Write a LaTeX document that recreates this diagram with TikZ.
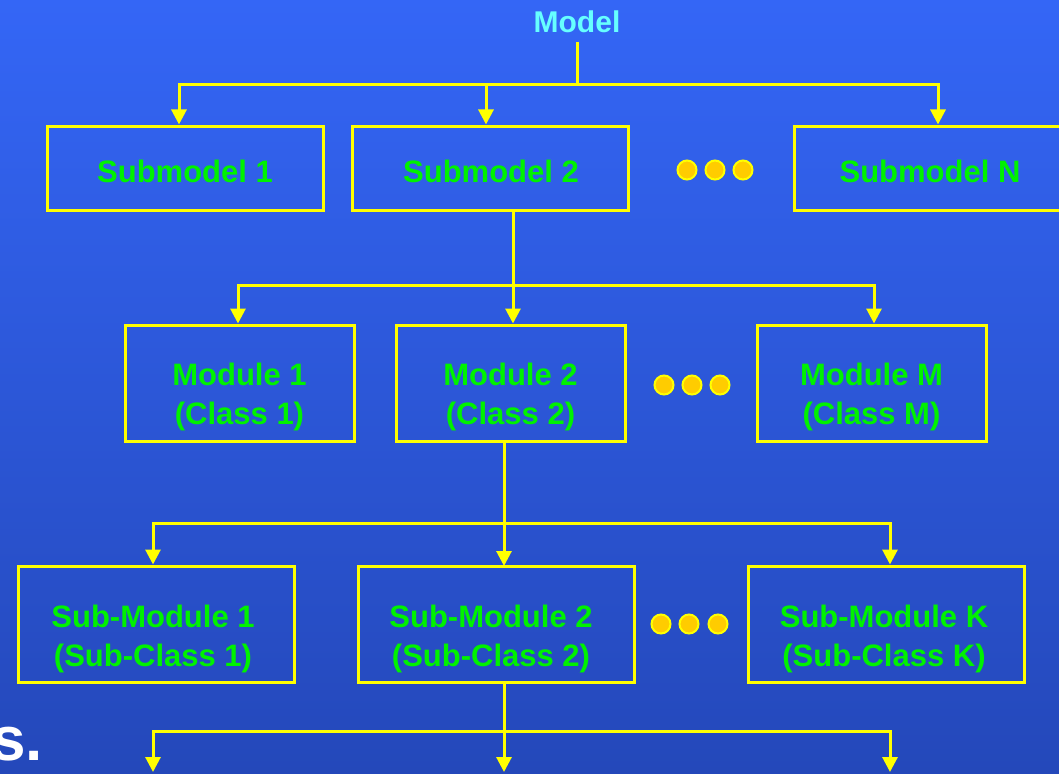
\documentclass[tikz,border=0pt]{standalone}
\usepackage{fontspec}
\setmainfont{Liberation Sans}
\usetikzlibrary{arrows.meta}
\definecolor{bgtop}{RGB}{52,102,246}
\definecolor{bgbot}{RGB}{36,72,186}
\definecolor{ylw}{RGB}{255,255,0}
\definecolor{grn}{RGB}{0,242,0}
\definecolor{cyn}{RGB}{102,255,255}
\definecolor{dotfill}{RGB}{255,204,0}
\tikzset{
  box/.style={draw=ylw, line width=3pt, inner sep=0pt},
  txt/.style={text=grn, inner sep=0pt, align=center,
    font=\bfseries\fontsize{31}{39}\selectfont},
  wire/.style={draw=ylw, line width=3pt},
  arr/.style={wire, -{Triangle[width=15pt,length=15pt]}},
  dotc/.style={circle, fill=dotfill, draw=ylw, line width=2pt, minimum size=19pt, inner sep=0pt},
}
\begin{document}
\begin{tikzpicture}[x=1pt,y=-1pt]
\clip (0,0) rectangle (1059,773);
\shade[top color=bgtop, bottom color=bgbot] (0,0) rectangle (1059,773);

% top
\node[text=cyn, font=\bfseries\fontsize{30}{36}\selectfont] (model) at (577,22) {Model};
\node[box, minimum width=276pt, minimum height=84pt] (sm1) at (185,168) {};
\node[box, minimum width=276pt, minimum height=84pt] (sm2) at (490,168) {};
\node[box, minimum width=272pt, minimum height=84pt] (smn) at (930,168) {};
\node[txt] (sm1t) at (185,171) {Submodel 1};
\node[txt] (sm2t) at (491,171) {Submodel 2};
\node[txt] (smnt) at (930,171) {Submodel N};
\node[dotc] (d1a) at (687,170) {};
\node[dotc] (d1b) at (715,170) {};
\node[dotc] (d1c) at (743,170) {};
\coordinate (j1) at (577,85);
\draw[wire] (577,42) -- (j1);
\draw[arr] (j1) -| ([xshift=-6pt]sm1.north);
\draw[arr] (j1) -| ([xshift=-4pt]sm2.north);
\draw[arr] (j1) -| ([xshift=8pt]smn.north);

% modules
\node[box, minimum width=229pt, minimum height=116pt] (m1) at (239.5,383) {};
\node[box, minimum width=229pt, minimum height=116pt] (m2) at (510.5,383) {};
\node[box, minimum width=229pt, minimum height=116pt] (mm) at (871.5,383) {};
\node[txt] (m1t) at (239.5,397) {Module 1\\(Class 1)};
\node[txt] (m2t) at (510.5,397) {Module 2\\(Class 2)};
\node[txt] (mmt) at (871.5,397) {Module M\\(Class M)};
\node[dotc] (d2a) at (664,385) {};
\node[dotc] (d2b) at (692,385) {};
\node[dotc] (d2c) at (720,385) {};
\coordinate (s2b) at (513,210);
\coordinate (j2) at (513,285);
\draw[wire] (s2b) -- (j2);
\draw[arr] (j2) -| ([xshift=-1.5pt]m1.north);
\draw[arr] (j2) -- ([xshift=2.5pt]m2.north);
\draw[arr] (j2) -| ([xshift=2.5pt]mm.north);

% sub-modules
\node[box, minimum width=276pt, minimum height=116pt] (s1) at (156,624) {};
\node[box, minimum width=276pt, minimum height=116pt] (s2) at (496,624) {};
\node[box, minimum width=276pt, minimum height=116pt] (sk) at (886,624) {};
\node[txt] (s1t) at (153,639) {Sub-Module 1\\(Sub-Class 1)};
\node[txt] (s2t) at (491,639) {Sub-Module 2\\(Sub-Class 2)};
\node[txt] (skt) at (884,639) {Sub-Module K\\(Sub-Class K)};
\node[dotc] (d3a) at (661,624) {};
\node[dotc] (d3b) at (689,624) {};
\node[dotc] (d3c) at (718,624) {};
\coordinate (m2b) at (504,441);
\coordinate (j3) at (504,523);
\draw[wire] (m2b) -- (j3);
\draw[arr] (j3) -| ([xshift=-3pt]s1.north);
\draw[arr] (j3) -- (504,566);
\draw[arr] (j3) -| ([xshift=4pt]sk.north);

% bottom
\coordinate (s2c) at (504,682);
\coordinate (j4) at (504,731);
\coordinate (e1) at (153,772);
\coordinate (e2) at (504,772);
\coordinate (e3) at (890,772);
\draw[wire] (s2c) -- (j4);
\draw[arr] (j4) -| (e1);
\draw[arr] (j4) -- (e2);
\draw[arr] (j4) -| (e3);

\node[anchor=base east, text=white, inner sep=0pt, font=\bfseries\fontsize{62}{70}\selectfont] (stxt) at (43,760) {s.};
\end{tikzpicture}
\end{document}
